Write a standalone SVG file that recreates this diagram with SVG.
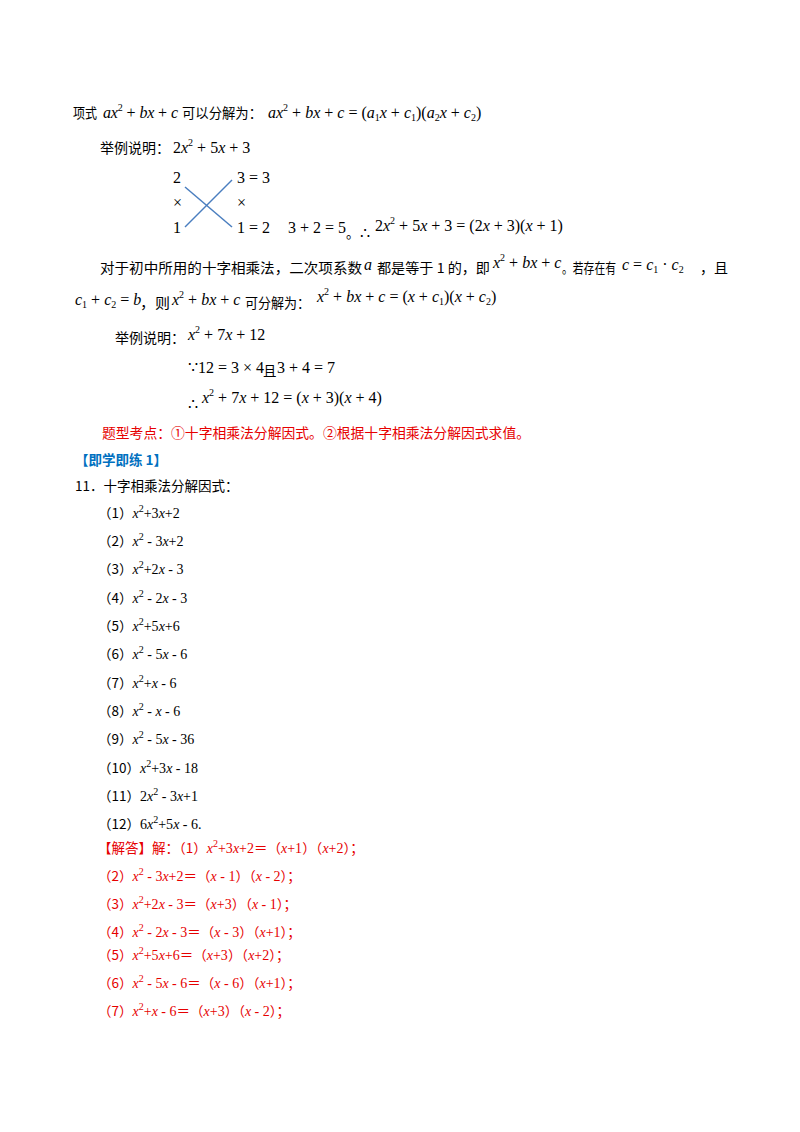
<svg xmlns="http://www.w3.org/2000/svg" width="800" height="1132" viewBox="0 0 800 1132">
<style>
text{font-family:"Liberation Serif","Noto Sans CJK SC",serif;font-size:14px;fill:#000}
.c{font-family:"Noto Sans CJK SC",sans-serif;font-size:13.5px}
.m{font-family:"Liberation Serif",serif;font-size:16px}
.i{font-style:italic}
.r{fill:#e60000}
.b{fill:#0070c0;font-weight:bold}
.s{font-size:10px}
</style>
<rect width="800" height="1132" fill="#fff"/>
<text x="73" y="118" class="c" textLength="24" lengthAdjust="spacingAndGlyphs">项式</text>
<text x="103" y="118" class="m" textLength="75"><tspan class="i">ax</tspan><tspan class="s" dy="-7">2</tspan><tspan dy="7"> + </tspan><tspan class="i">bx</tspan> + <tspan class="i">c</tspan></text>
<text x="182" y="118" class="c" textLength="80" lengthAdjust="spacingAndGlyphs">可以分解为：</text>
<text x="268" y="118" class="m"><tspan class="i">ax</tspan><tspan class="s" dy="-7">2</tspan><tspan dy="7"> + </tspan><tspan class="i">bx</tspan> + <tspan class="i">c</tspan> = (<tspan class="i">a</tspan><tspan class="s" dy="3">1</tspan><tspan class="i" dy="-3">x</tspan> + <tspan class="i">c</tspan><tspan class="s" dy="3">1</tspan><tspan dy="-3">)(</tspan><tspan class="i">a</tspan><tspan class="s" dy="3">2</tspan><tspan class="i" dy="-3">x</tspan> + <tspan class="i">c</tspan><tspan class="s" dy="3">2</tspan><tspan dy="-3">)</tspan></text>
<text x="100" y="153" class="c" textLength="70" lengthAdjust="spacingAndGlyphs">举例说明：</text>
<text x="173" y="153" class="m">2<tspan class="i">x</tspan><tspan class="s" dy="-7">2</tspan><tspan dy="7"> + 5</tspan><tspan class="i">x</tspan> + 3</text>
<text x="173" y="183" class="m">2</text><text x="173" y="208" class="m">×</text><text x="173" y="233" class="m">1</text>
<text x="237" y="183" class="m">3 = 3</text><text x="237" y="208" class="m">×</text><text x="237" y="233" class="m">1 = 2</text>
<g stroke="#4a7ebf" stroke-width="1.5"><line x1="185" y1="187" x2="232" y2="227"/><line x1="185" y1="227" x2="232" y2="180"/></g>
<text x="288" y="233" class="m">3 + 2 = 5</text>
<text x="346" y="238" class="c" font-size="11">。</text>
<text x="360" y="239" class="m">∴</text>
<text x="375" y="231" class="m">2<tspan class="i">x</tspan><tspan class="s" dy="-7">2</tspan><tspan dy="7"> + 5</tspan><tspan class="i">x</tspan> + 3 = (2<tspan class="i">x</tspan> + 3)(<tspan class="i">x</tspan> + 1)</text>
<text x="100" y="273" class="c" textLength="262" lengthAdjust="spacingAndGlyphs">对于初中所用的十字相乘法，二次项系数</text>
<text x="364" y="270" class="m i" font-size="18">a</text>
<text x="377" y="273" class="c" textLength="113" lengthAdjust="spacingAndGlyphs">都是等于 1 的，即</text>
<text x="493" y="268" class="m"><tspan class="i">x</tspan><tspan class="s" dy="-7">2</tspan><tspan dy="7"> + </tspan><tspan class="i">bx</tspan> + <tspan class="i">c</tspan></text>
<text x="562" y="273" class="c" textLength="54" lengthAdjust="spacingAndGlyphs">。若存在有</text>
<text x="622" y="270" class="m"><tspan class="i">c</tspan> = <tspan class="i">c</tspan><tspan class="s" dy="3">1</tspan><tspan dy="-3"> · </tspan><tspan class="i">c</tspan><tspan class="s" dy="3">2</tspan></text>
<text x="700" y="273" class="c" textLength="28" lengthAdjust="spacingAndGlyphs">，且</text>
<text x="75" y="305" class="m"><tspan class="i">c</tspan><tspan class="s" dy="3">1</tspan><tspan dy="-3"> + </tspan><tspan class="i">c</tspan><tspan class="s" dy="3">2</tspan><tspan dy="-3"> = </tspan><tspan class="i">b</tspan></text>
<text x="140" y="308" class="c" textLength="30" lengthAdjust="spacingAndGlyphs">，则</text>
<text x="172" y="305" class="m"><tspan class="i">x</tspan><tspan class="s" dy="-7">2</tspan><tspan dy="7"> + </tspan><tspan class="i">bx</tspan> + <tspan class="i">c</tspan></text>
<text x="245" y="308" class="c" textLength="65" lengthAdjust="spacingAndGlyphs">可分解为：</text>
<text x="317" y="302" class="m"><tspan class="i">x</tspan><tspan class="s" dy="-7">2</tspan><tspan dy="7"> + </tspan><tspan class="i">bx</tspan> + <tspan class="i">c</tspan> = (<tspan class="i">x</tspan> + <tspan class="i">c</tspan><tspan class="s" dy="3">1</tspan><tspan dy="-3">)(</tspan><tspan class="i">x</tspan> + <tspan class="i">c</tspan><tspan class="s" dy="3">2</tspan><tspan dy="-3">)</tspan></text>
<text x="115" y="343" class="c" textLength="70" lengthAdjust="spacingAndGlyphs">举例说明：</text>
<text x="188" y="340" class="m"><tspan class="i">x</tspan><tspan class="s" dy="-7">2</tspan><tspan dy="7"> + 7</tspan><tspan class="i">x</tspan> + 12</text>
<text x="188" y="373" class="m">∵12 = 3 × 4</text>
<text x="263" y="376" class="c">且</text>
<text x="277" y="373" class="m">3 + 4 = 7</text>
<text x="188" y="410" class="m">∴</text>
<text x="202" y="403" class="m"><tspan class="i">x</tspan><tspan class="s" dy="-7">2</tspan><tspan dy="7"> + 7</tspan><tspan class="i">x</tspan> + 12 = (<tspan class="i">x</tspan> + 3)(<tspan class="i">x</tspan> + 4)</text>
<text x="102" y="438" class="c r" textLength="428" lengthAdjust="spacingAndGlyphs">题型考点：①十字相乘法分解因式。②根据十字相乘法分解因式求值。</text>
<text x="75" y="465" class="c b">【即学即练 1】</text>
<text x="75" y="491" class="c">11．十字相乘法分解因式：</text>
<g>
<text x="98" y="518"><tspan class="c">（1）</tspan><tspan class="i">x</tspan><tspan class="s" dy="-6">2</tspan><tspan dy="6">+3</tspan><tspan class="i">x</tspan>+2</text>
<text x="98" y="546"><tspan class="c">（2）</tspan><tspan class="i">x</tspan><tspan class="s" dy="-6">2</tspan><tspan dy="6"> - 3</tspan><tspan class="i">x</tspan>+2</text>
<text x="98" y="574"><tspan class="c">（3）</tspan><tspan class="i">x</tspan><tspan class="s" dy="-6">2</tspan><tspan dy="6">+2</tspan><tspan class="i">x</tspan> - 3</text>
<text x="98" y="603"><tspan class="c">（4）</tspan><tspan class="i">x</tspan><tspan class="s" dy="-6">2</tspan><tspan dy="6"> - 2</tspan><tspan class="i">x</tspan> - 3</text>
<text x="98" y="631"><tspan class="c">（5）</tspan><tspan class="i">x</tspan><tspan class="s" dy="-6">2</tspan><tspan dy="6">+5</tspan><tspan class="i">x</tspan>+6</text>
<text x="98" y="659"><tspan class="c">（6）</tspan><tspan class="i">x</tspan><tspan class="s" dy="-6">2</tspan><tspan dy="6"> - 5</tspan><tspan class="i">x</tspan> - 6</text>
<text x="98" y="688"><tspan class="c">（7）</tspan><tspan class="i">x</tspan><tspan class="s" dy="-6">2</tspan><tspan dy="6">+</tspan><tspan class="i">x</tspan> - 6</text>
<text x="98" y="716"><tspan class="c">（8）</tspan><tspan class="i">x</tspan><tspan class="s" dy="-6">2</tspan><tspan dy="6"> - </tspan><tspan class="i">x</tspan> - 6</text>
<text x="98" y="744"><tspan class="c">（9）</tspan><tspan class="i">x</tspan><tspan class="s" dy="-6">2</tspan><tspan dy="6"> - 5</tspan><tspan class="i">x</tspan> - 36</text>
<text x="98" y="773"><tspan class="c">（10）</tspan><tspan class="i">x</tspan><tspan class="s" dy="-6">2</tspan><tspan dy="6">+3</tspan><tspan class="i">x</tspan> - 18</text>
<text x="98" y="801"><tspan class="c">（11）</tspan>2<tspan class="i">x</tspan><tspan class="s" dy="-6">2</tspan><tspan dy="6"> - 3</tspan><tspan class="i">x</tspan>+1</text>
<text x="98" y="829"><tspan class="c">（12）</tspan>6<tspan class="i">x</tspan><tspan class="s" dy="-6">2</tspan><tspan dy="6">+5</tspan><tspan class="i">x</tspan> - 6.</text>
</g>
<g>
<text x="98" y="853" class="r"><tspan class="c r">【解答】解：（1）</tspan><tspan class="i">x</tspan><tspan class="s" dy="-6">2</tspan><tspan dy="6">+3</tspan><tspan class="i">x</tspan>+2<tspan class="c r">＝（</tspan><tspan class="i">x</tspan>+1<tspan class="c r">）（</tspan><tspan class="i">x</tspan>+2<tspan class="c r">）；</tspan></text>
<text x="98" y="881" class="r"><tspan class="c r">（2）</tspan><tspan class="i">x</tspan><tspan class="s" dy="-6">2</tspan><tspan dy="6"> - 3</tspan><tspan class="i">x</tspan>+2<tspan class="c r">＝（</tspan><tspan class="i">x</tspan> - 1<tspan class="c r">）（</tspan><tspan class="i">x</tspan> - 2<tspan class="c r">）；</tspan></text>
<text x="98" y="909" class="r"><tspan class="c r">（3）</tspan><tspan class="i">x</tspan><tspan class="s" dy="-6">2</tspan><tspan dy="6">+2</tspan><tspan class="i">x</tspan> - 3<tspan class="c r">＝（</tspan><tspan class="i">x</tspan>+3<tspan class="c r">）（</tspan><tspan class="i">x</tspan> - 1<tspan class="c r">）；</tspan></text>
<text x="98" y="937" class="r"><tspan class="c r">（4）</tspan><tspan class="i">x</tspan><tspan class="s" dy="-6">2</tspan><tspan dy="6"> - 2</tspan><tspan class="i">x</tspan> - 3<tspan class="c r">＝（</tspan><tspan class="i">x</tspan> - 3<tspan class="c r">）（</tspan><tspan class="i">x</tspan>+1<tspan class="c r">）；</tspan></text>
<text x="98" y="960" class="r"><tspan class="c r">（5）</tspan><tspan class="i">x</tspan><tspan class="s" dy="-6">2</tspan><tspan dy="6">+5</tspan><tspan class="i">x</tspan>+6<tspan class="c r">＝（</tspan><tspan class="i">x</tspan>+3<tspan class="c r">）（</tspan><tspan class="i">x</tspan>+2<tspan class="c r">）；</tspan></text>
<text x="98" y="988" class="r"><tspan class="c r">（6）</tspan><tspan class="i">x</tspan><tspan class="s" dy="-6">2</tspan><tspan dy="6"> - 5</tspan><tspan class="i">x</tspan> - 6<tspan class="c r">＝（</tspan><tspan class="i">x</tspan> - 6<tspan class="c r">）（</tspan><tspan class="i">x</tspan>+1<tspan class="c r">）；</tspan></text>
<text x="98" y="1016" class="r"><tspan class="c r">（7）</tspan><tspan class="i">x</tspan><tspan class="s" dy="-6">2</tspan><tspan dy="6">+</tspan><tspan class="i">x</tspan> - 6<tspan class="c r">＝（</tspan><tspan class="i">x</tspan>+3<tspan class="c r">）（</tspan><tspan class="i">x</tspan> - 2<tspan class="c r">）；</tspan></text>
</g>
</svg>
